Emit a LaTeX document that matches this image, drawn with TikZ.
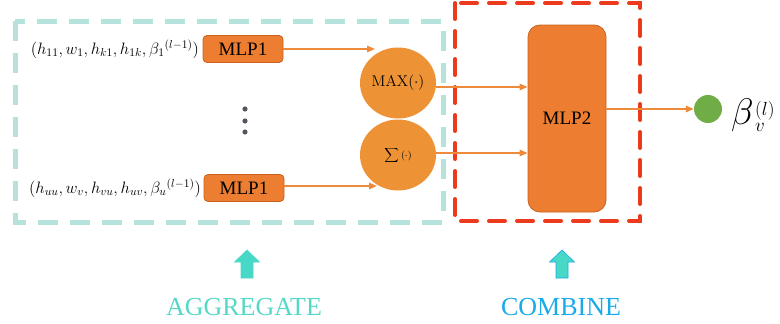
\documentclass[tikz,border=0pt]{standalone}
\usepackage{fix-cm}
\usepackage[no-math]{fontspec}
\setmainfont{Liberation Serif}
\usetikzlibrary{arrows.meta,shapes.geometric}

\definecolor{mlpfill}{HTML}{ED7D31}
\definecolor{mlpedge}{HTML}{C8621E}
\definecolor{poolfill}{HTML}{EE9236}
\definecolor{flow}{HTML}{EE8A3C}
\definecolor{outgreen}{HTML}{70AD47}
\definecolor{aggbox}{HTML}{B6E2DC}
\definecolor{combox}{HTML}{EE3A1C}
\definecolor{aggtext}{HTML}{55D8C6}
\definecolor{comtext}{HTML}{1AAAEA}
\definecolor{uparrow}{HTML}{48D9C6}
\definecolor{dotgray}{HTML}{555560}

\tikzset{
  mlpbox/.style={draw=mlpedge, fill=mlpfill, line width=0.8pt, rounded corners=4pt,
    minimum width=80pt, minimum height=27pt, inner sep=0pt,
    font=\fontsize{19}{21}\selectfont},
  poolnode/.style={ellipse, fill=poolfill, minimum width=76pt, minimum height=71pt, inner sep=0pt},
  flowarrow/.style={draw=flow, line width=1.6pt, -{Triangle[length=8pt,width=6.5pt]}},
  inlabel/.style={anchor=east, inner sep=0pt, font=\fontsize{16.5}{18}\selectfont},
  stageword/.style={font=\fontsize{26}{28}\selectfont, inner sep=0pt},
}

% small index text next to the output symbol
\newcommand{\idxtext}[1]{{\fontsize{19}{21}\selectfont$#1$}}

\begin{document}
\begin{tikzpicture}[x=1pt,y=-1pt]
  \useasboundingbox (0,0) rectangle (780,324);

  % stage frames
  \draw[aggbox, line width=5pt, dash pattern=on 20pt off 12pt] (15,21) rectangle (443,222);
  \draw[combox, line width=4pt, line cap=round, dash pattern=on 16pt off 12pt] (455,3) rectangle (640,221);

  % input branches
  \node[mlpbox] (m1) at (243,49) {MLP1};
  \node[mlpbox] (m2) at (244,188) {MLP1};
  \node[inlabel] (in1) at (199,49) {$(h_{11},w_1,h_{k1},h_{1k},\beta_1{}^{(l-1)})$};
  \node[inlabel] (in2) at (201,188) {$(h_{uu},w_v,h_{vu},h_{uv},\beta_u{}^{(l-1)})$};

  % vertical ellipsis
  \foreach \yy/\nm in {109/d1,121/d2,132/d3}
    \fill[dotgray] (245,\yy) circle (2.6pt) coordinate (\nm);

  % pooling operators
  \node[poolnode] (mx) at (398,83) {\fontsize{15.5}{17}\selectfont$\mathrm{MAX}(\cdot)$};
  \node[poolnode] (sm) at (398,155) {\fontsize{14}{16}\selectfont$\displaystyle\sum{\scriptstyle(\cdot)}$};

  % combine step
  \node[mlpbox, minimum width=78pt, minimum height=187pt, rounded corners=12pt] (m3) at (567,118.5) {MLP2};

  % output
  \node[circle, fill=outgreen, minimum size=28pt, inner sep=0pt] (out) at (708,109) {};
  \node[anchor=base west, inner sep=0pt] (beta) at (731,124)
    {{\fontsize{37}{39}\selectfont$\beta$}\kern1.5pt\rlap{\raisebox{8.5pt}{\idxtext{(l)}}}\raisebox{-7pt}{\idxtext{v}}};

  % connectors
  \coordinate (j1) at (375,49);
  \coordinate (j2) at (377,186);
  \draw[flowarrow] (m1.east) -- (j1);
  \draw[flowarrow] (m2.east |- j2) -- (j2);
  \draw[flowarrow] ([yshift=-4pt]mx.east) -- ([yshift=-4pt]mx.east -| m3.west);
  \draw[flowarrow] ([yshift=2pt]sm.east) -- ([yshift=2pt]sm.east -| m3.west);
  \draw[flowarrow] (m3.east |- out) -- (out.west);

  % stage markers
  \foreach \cx/\nm/\edge in {247/ua/uparrow, 562/uc/comtext}
    \filldraw[fill=uparrow, draw=\edge, line width=0.6pt]
      (\cx-6,278) -- (\cx-6,262) -- (\cx-12.5,262) -- (\cx,250) -- (\cx+12.5,262)
      -- (\cx+6,262) -- (\cx+6,278) -- cycle;
  \node[stageword, text=aggtext, anchor=base] (agg) at (244,315) {AGGREGATE};
  \node[stageword, text=comtext, anchor=base] (com) at (561,315) {COMBINE};
\end{tikzpicture}
\end{document}
